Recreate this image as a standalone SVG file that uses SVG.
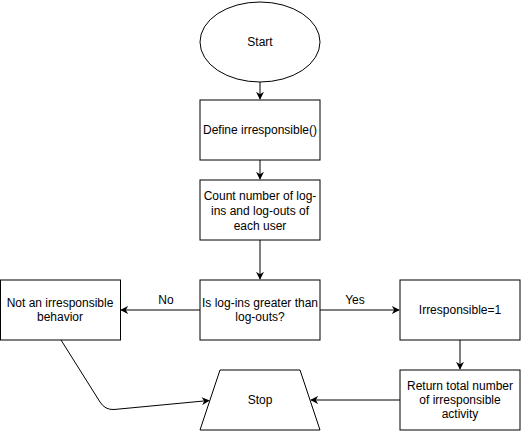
<svg xmlns="http://www.w3.org/2000/svg" width="521" height="431" viewBox="0 0 521 431">
<defs>
<style>
.s{fill:#fff;stroke:#000;stroke-width:1}
.t{font-family:"Liberation Sans",Arial,sans-serif;font-size:12px;fill:#000;text-anchor:middle}
.c{fill:none;stroke:#000;stroke-width:1}
</style>
<marker id="a" viewBox="0 0 10 10" refX="9" refY="5" markerWidth="8" markerHeight="8" markerUnits="userSpaceOnUse" orient="auto">
<path d="M0 0 L10 5 L0 10 L3 5 Z" fill="#000"/>
</marker>
</defs>
<rect width="521" height="431" fill="#fff"/>
<g id="connectors">
<path class="c" d="M260 82 L260 99" marker-end="url(#a)"/>
<path class="c" d="M260 160 L260 179" marker-end="url(#a)"/>
<path class="c" d="M260 240 L260 279" marker-end="url(#a)"/>
<path class="c" d="M200 310 L121 310" marker-end="url(#a)"/>
<path class="c" d="M320 310 L399 310" marker-end="url(#a)"/>
<path class="c" d="M460 340 L460 369" marker-end="url(#a)"/>
<path class="c" d="M400 400 L311 400" marker-end="url(#a)"/>
<path class="c" d="M61 340 L100 402 Q105 410 114 409.5 L209 400.5" marker-end="url(#a)"/>
<text class="t" x="166" y="304">No</text>
<text class="t" x="355" y="304">Yes</text>
</g>
<g id="start">
<ellipse class="s" cx="260" cy="42" rx="60" ry="40"/>
<text class="t" x="260" y="46">Start</text>
</g>
<g id="define">
<rect class="s" x="200" y="100" width="120" height="60"/>
<text class="t" x="260" y="134">Define irresponsible()</text>
</g>
<g id="count">
<rect class="s" x="200" y="180" width="120" height="60"/>
<text class="t" x="260" y="200">Count number of log-</text>
<text class="t" x="260" y="215">ins and log-outs of</text>
<text class="t" x="260" y="230">each user</text>
</g>
<g id="decision">
<rect class="s" x="200" y="280" width="120" height="60"/>
<text class="t" x="260" y="307">Is log-ins greater than</text>
<text class="t" x="260" y="321">log-outs?</text>
</g>
<g id="not">
<rect class="s" x="0.5" y="280" width="120" height="60"/>
<text class="t" x="60" y="307">Not an irresponsible</text>
<text class="t" x="60" y="321">behavior</text>
</g>
<g id="irr">
<rect class="s" x="400" y="280" width="120" height="60"/>
<text class="t" x="460" y="314">Irresponsible=1</text>
</g>
<g id="ret">
<rect class="s" x="400" y="370" width="120" height="60"/>
<text class="t" x="460" y="390">Return total number</text>
<text class="t" x="460" y="404">of irresponsible</text>
<text class="t" x="460" y="418">activity</text>
</g>
<g id="stop">
<polygon class="s" points="220,370 300,370 320,430 200,430"/>
<text class="t" x="260" y="404">Stop</text>
</g>
</svg>
